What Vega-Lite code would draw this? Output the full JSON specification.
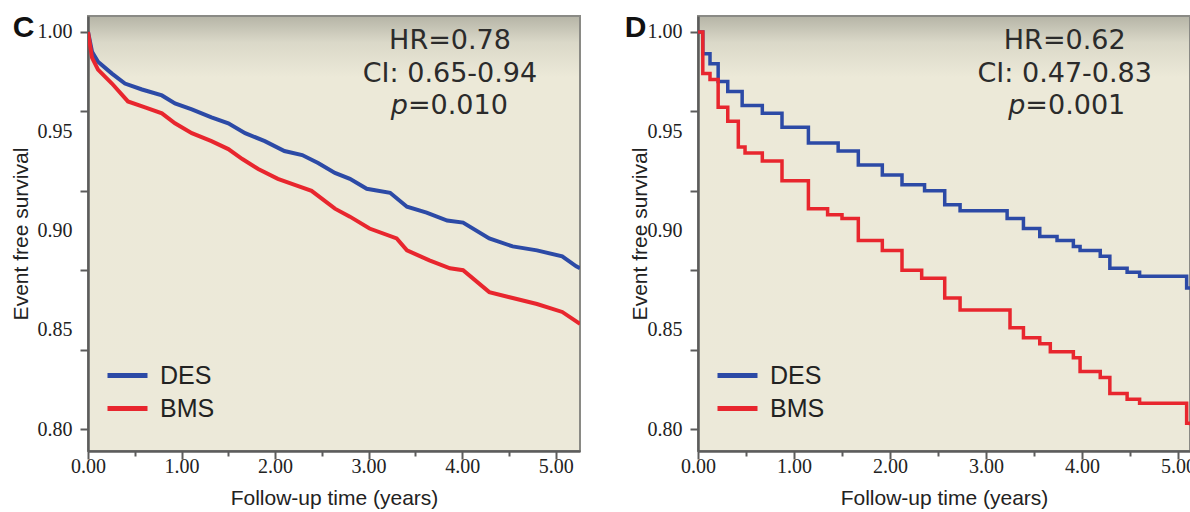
{
  "$schema": "https://vega.github.io/schema/vega-lite/v6.json",
  "background": "#ffffff",
  "padding": {"left": 9, "top": 11, "right": 0, "bottom": 0},
  "bounds": "flush",
  "spacing": 118,
  "datasets": {
    "c": [
      {"t": 0, "s": 1.0, "g": "DES"}, {"t": 0.043, "s": 0.99, "g": "DES"}, {"t": 0.107, "s": 0.985, "g": "DES"}, {"t": 0.256, "s": 0.979, "g": "DES"}, {"t": 0.395, "s": 0.974, "g": "DES"}, {"t": 0.577, "s": 0.971, "g": "DES"}, {"t": 0.79, "s": 0.968, "g": "DES"}, {"t": 0.93, "s": 0.964, "g": "DES"}, {"t": 1.11, "s": 0.961, "g": "DES"}, {"t": 1.32, "s": 0.957, "g": "DES"}, {"t": 1.5, "s": 0.954, "g": "DES"}, {"t": 1.68, "s": 0.949, "g": "DES"}, {"t": 1.89, "s": 0.945, "g": "DES"}, {"t": 2.1, "s": 0.94, "g": "DES"}, {"t": 2.29, "s": 0.938, "g": "DES"}, {"t": 2.46, "s": 0.934, "g": "DES"}, {"t": 2.64, "s": 0.929, "g": "DES"}, {"t": 2.8, "s": 0.926, "g": "DES"}, {"t": 2.98, "s": 0.921, "g": "DES"}, {"t": 3.23, "s": 0.919, "g": "DES"}, {"t": 3.41, "s": 0.912, "g": "DES"}, {"t": 3.62, "s": 0.909, "g": "DES"}, {"t": 3.84, "s": 0.905, "g": "DES"}, {"t": 4.01, "s": 0.904, "g": "DES"}, {"t": 4.29, "s": 0.896, "g": "DES"}, {"t": 4.54, "s": 0.892, "g": "DES"}, {"t": 4.8, "s": 0.89, "g": "DES"}, {"t": 5.07, "s": 0.887, "g": "DES"}, {"t": 5.22, "s": 0.882, "g": "DES"}, {"t": 5.26, "s": 0.881, "g": "DES"},
      {"t": 0, "s": 1.0, "g": "BMS"}, {"t": 0.043, "s": 0.987, "g": "BMS"}, {"t": 0.107, "s": 0.981, "g": "BMS"}, {"t": 0.256, "s": 0.974, "g": "BMS"}, {"t": 0.427, "s": 0.965, "g": "BMS"}, {"t": 0.61, "s": 0.962, "g": "BMS"}, {"t": 0.79, "s": 0.959, "g": "BMS"}, {"t": 0.93, "s": 0.954, "g": "BMS"}, {"t": 1.11, "s": 0.949, "g": "BMS"}, {"t": 1.32, "s": 0.945, "g": "BMS"}, {"t": 1.5, "s": 0.941, "g": "BMS"}, {"t": 1.65, "s": 0.936, "g": "BMS"}, {"t": 1.82, "s": 0.931, "g": "BMS"}, {"t": 2.03, "s": 0.926, "g": "BMS"}, {"t": 2.21, "s": 0.923, "g": "BMS"}, {"t": 2.39, "s": 0.92, "g": "BMS"}, {"t": 2.64, "s": 0.911, "g": "BMS"}, {"t": 2.8, "s": 0.907, "g": "BMS"}, {"t": 3.01, "s": 0.901, "g": "BMS"}, {"t": 3.3, "s": 0.896, "g": "BMS"}, {"t": 3.41, "s": 0.89, "g": "BMS"}, {"t": 3.65, "s": 0.885, "g": "BMS"}, {"t": 3.87, "s": 0.881, "g": "BMS"}, {"t": 4.01, "s": 0.88, "g": "BMS"}, {"t": 4.29, "s": 0.869, "g": "BMS"}, {"t": 4.54, "s": 0.866, "g": "BMS"}, {"t": 4.8, "s": 0.863, "g": "BMS"}, {"t": 5.07, "s": 0.859, "g": "BMS"}, {"t": 5.26, "s": 0.853, "g": "BMS"}
    ],
    "d": [
      {"t": 0, "s": 1.0, "g": "DES"}, {"t": 0.05, "s": 0.989, "g": "DES"}, {"t": 0.125, "s": 0.984, "g": "DES"}, {"t": 0.21, "s": 0.975, "g": "DES"}, {"t": 0.31, "s": 0.97, "g": "DES"}, {"t": 0.46, "s": 0.963, "g": "DES"}, {"t": 0.67, "s": 0.959, "g": "DES"}, {"t": 0.875, "s": 0.952, "g": "DES"}, {"t": 1.15, "s": 0.944, "g": "DES"}, {"t": 1.46, "s": 0.94, "g": "DES"}, {"t": 1.67, "s": 0.933, "g": "DES"}, {"t": 1.92, "s": 0.928, "g": "DES"}, {"t": 2.125, "s": 0.923, "g": "DES"}, {"t": 2.36, "s": 0.92, "g": "DES"}, {"t": 2.57, "s": 0.913, "g": "DES"}, {"t": 2.73, "s": 0.91, "g": "DES"}, {"t": 3.22, "s": 0.906, "g": "DES"}, {"t": 3.39, "s": 0.901, "g": "DES"}, {"t": 3.56, "s": 0.897, "g": "DES"}, {"t": 3.74, "s": 0.895, "g": "DES"}, {"t": 3.91, "s": 0.892, "g": "DES"}, {"t": 3.98, "s": 0.89, "g": "DES"}, {"t": 4.19, "s": 0.887, "g": "DES"}, {"t": 4.29, "s": 0.881, "g": "DES"}, {"t": 4.47, "s": 0.879, "g": "DES"}, {"t": 4.6, "s": 0.877, "g": "DES"}, {"t": 5.09, "s": 0.871, "g": "DES"}, {"t": 5.13, "s": 0.871, "g": "DES"},
      {"t": 0, "s": 1.0, "g": "BMS"}, {"t": 0.05, "s": 0.979, "g": "BMS"}, {"t": 0.125, "s": 0.976, "g": "BMS"}, {"t": 0.21, "s": 0.962, "g": "BMS"}, {"t": 0.31, "s": 0.955, "g": "BMS"}, {"t": 0.42, "s": 0.942, "g": "BMS"}, {"t": 0.49, "s": 0.939, "g": "BMS"}, {"t": 0.67, "s": 0.935, "g": "BMS"}, {"t": 0.875, "s": 0.925, "g": "BMS"}, {"t": 1.15, "s": 0.911, "g": "BMS"}, {"t": 1.35, "s": 0.908, "g": "BMS"}, {"t": 1.5, "s": 0.906, "g": "BMS"}, {"t": 1.67, "s": 0.895, "g": "BMS"}, {"t": 1.92, "s": 0.89, "g": "BMS"}, {"t": 2.125, "s": 0.88, "g": "BMS"}, {"t": 2.33, "s": 0.876, "g": "BMS"}, {"t": 2.57, "s": 0.866, "g": "BMS"}, {"t": 2.73, "s": 0.86, "g": "BMS"}, {"t": 3.25, "s": 0.851, "g": "BMS"}, {"t": 3.39, "s": 0.846, "g": "BMS"}, {"t": 3.56, "s": 0.843, "g": "BMS"}, {"t": 3.67, "s": 0.839, "g": "BMS"}, {"t": 3.91, "s": 0.836, "g": "BMS"}, {"t": 3.98, "s": 0.829, "g": "BMS"}, {"t": 4.19, "s": 0.826, "g": "BMS"}, {"t": 4.29, "s": 0.818, "g": "BMS"}, {"t": 4.47, "s": 0.815, "g": "BMS"}, {"t": 4.6, "s": 0.813, "g": "BMS"}, {"t": 5.09, "s": 0.803, "g": "BMS"}, {"t": 5.13, "s": 0.802, "g": "BMS"}
    ]
  },
  "config": {
    "view": {
      "stroke": "#8a8a85",
      "strokeWidth": 2,
      "fill": {"gradient": "linear", "x1": 0, "y1": 0, "x2": 0, "y2": 1, "stops": [{"offset": 0, "color": "#B5B4A6"}, {"offset": 0.06, "color": "#DAD8C8"}, {"offset": 0.14, "color": "#ECE9D8"}, {"offset": 1, "color": "#ECE9D9"}]}
    },
    "axis": {
      "grid": false,
      "domainColor": "#5c5c5c",
      "domainWidth": 2.5,
      "tickColor": "#5c5c5c",
      "tickWidth": 2,
      "labelFont": "Liberation Serif",
      "labelFontSize": 20,
      "labelColor": "#222222",
      "labelFlush": false,
      "labelOverlap": false,
      "titleFont": "Liberation Sans",
      "titleFontSize": 21,
      "titleFontWeight": "normal",
      "titleColor": "#222222"
    },
    "legend": {
      "orient": "none",
      "legendX": 27,
      "legendY": 347,
      "title": null,
      "symbolType": "M-2,0H2",
      "symbolSize": 400,
      "symbolStrokeWidth": 5,
      "labelFont": "Liberation Sans",
      "labelFontSize": 25,
      "labelColor": "#222222",
      "labelOffset": 20,
      "rowPadding": 7,
      "padding": 0
    }
  },
  "resolve": {"scale": {"color": "independent", "x": "independent", "y": "independent"}, "legend": {"color": "independent"}},
  "hconcat": [
    {
      "width": 492,
      "height": 435,
      "layer": [
        {
          "data": {"name": "c"},
          "mark": {"type": "line", "strokeWidth": 4, "clip": true},
          "encoding": {
            "x": {"field": "t", "type": "quantitative", "scale": {"domain": [0, 5.26], "nice": false, "zero": false},
              "axis": {"title": "Follow-up time (years)", "values": [0, 0.25, 0.5, 0.75, 1, 1.25, 1.5, 1.75, 2, 2.25, 2.5, 2.75, 3, 3.25, 3.5, 3.75, 4, 4.25, 4.5, 4.75, 5, 5.25],
                "labelExpr": "datum.value % 1 === 0 ? format(datum.value, '.2f') : ''",
                "tickSize": {"condition": {"test": "datum.value % 1 === 0", "value": 8}, "value": 5},
                "labelPadding": -3, "titlePadding": 11}},
            "y": {"field": "s", "type": "quantitative", "scale": {"domain": [0.789, 1.008], "nice": false, "zero": false},
              "axis": {"title": "Event free survival", "values": [0.8, 0.84, 0.85, 0.88, 0.9, 0.92, 0.95, 0.96, 1.0],
                "labelExpr": "indexof([0.8, 0.85, 0.9, 0.95, 1], datum.value) >= 0 ? format(datum.value, '.2f') : ''",
                "tickOpacity": {"condition": {"test": "indexof([0.85, 0.9, 0.95], datum.value) >= 0", "value": 0}, "value": 1},
                "tickSize": 8, "labelPadding": 8, "titlePadding": 6}},
            "color": {"field": "g", "type": "nominal", "scale": {"domain": ["DES", "BMS"], "range": ["#2C4AA6", "#E8262E"]}, "legend": {}}
          }
        },
        {
          "data": {"values": [{"t": 3.87, "s": 0.9955, "txt": "HR=0.78"}, {"t": 3.87, "s": 0.979, "txt": "CI: 0.65-0.94"}]},
          "mark": {"type": "text", "font": "DejaVu Sans", "fontSize": 27, "color": "#2b2b2b", "align": "center", "baseline": "middle"},
          "encoding": {"x": {"field": "t", "type": "quantitative"}, "y": {"field": "s", "type": "quantitative"}, "text": {"field": "txt"}}
        },
        {
          "data": {"values": [{"t": 3.42, "s": 0.9627, "txt": "p"}]},
          "mark": {"type": "text", "font": "DejaVu Sans", "fontSize": 27, "fontStyle": "italic", "color": "#2b2b2b", "align": "right", "baseline": "middle"},
          "encoding": {"x": {"field": "t", "type": "quantitative"}, "y": {"field": "s", "type": "quantitative"}, "text": {"field": "txt"}}
        },
        {
          "data": {"values": [{"t": 3.42, "s": 0.9627, "txt": "=0.010"}]},
          "mark": {"type": "text", "font": "DejaVu Sans", "fontSize": 27, "color": "#2b2b2b", "align": "left", "baseline": "middle"},
          "encoding": {"x": {"field": "t", "type": "quantitative"}, "y": {"field": "s", "type": "quantitative"}, "text": {"field": "txt"}}
        },
        {
          "data": {"values": [{"t": -0.69, "s": 1.0022, "txt": "C"}]},
          "mark": {"type": "text", "font": "Liberation Sans", "fontSize": 30, "fontWeight": "bold", "color": "#111111", "align": "center", "baseline": "middle"},
          "encoding": {"x": {"field": "t", "type": "quantitative"}, "y": {"field": "s", "type": "quantitative"}, "text": {"field": "txt"}}
        }
      ]
    },
    {
      "width": 492,
      "height": 435,
      "layer": [
        {
          "data": {"name": "d"},
          "mark": {"type": "line", "strokeWidth": 3.5, "interpolate": "step-after", "clip": true},
          "encoding": {
            "x": {"field": "t", "type": "quantitative", "scale": {"domain": [0, 5.125], "nice": false, "zero": false},
              "axis": {"title": "Follow-up time (years)", "values": [0, 0.25, 0.5, 0.75, 1, 1.25, 1.5, 1.75, 2, 2.25, 2.5, 2.75, 3, 3.25, 3.5, 3.75, 4, 4.25, 4.5, 4.75, 5],
                "labelExpr": "datum.value % 1 === 0 ? format(datum.value, '.2f') : ''",
                "tickSize": {"condition": {"test": "datum.value % 1 === 0", "value": 8}, "value": 5},
                "labelPadding": -3, "titlePadding": 11}},
            "y": {"field": "s", "type": "quantitative", "scale": {"domain": [0.789, 1.008], "nice": false, "zero": false},
              "axis": {"title": "Event free survival", "values": [0.8, 0.84, 0.85, 0.88, 0.9, 0.92, 0.95, 0.96, 1.0],
                "labelExpr": "indexof([0.8, 0.85, 0.9, 0.95, 1], datum.value) >= 0 ? format(datum.value, '.2f') : ''",
                "tickOpacity": {"condition": {"test": "indexof([0.85, 0.9, 0.95], datum.value) >= 0", "value": 0}, "value": 1},
                "tickSize": 8, "labelPadding": 8, "titlePadding": -3}},
            "color": {"field": "g", "type": "nominal", "scale": {"domain": ["DES", "BMS"], "range": ["#2C4AA6", "#E8262E"]}, "legend": {}}
          }
        },
        {
          "data": {"values": [{"t": 3.82, "s": 0.9955, "txt": "HR=0.62"}, {"t": 3.82, "s": 0.979, "txt": "CI: 0.47-0.83"}]},
          "mark": {"type": "text", "font": "DejaVu Sans", "fontSize": 27, "color": "#2b2b2b", "align": "center", "baseline": "middle"},
          "encoding": {"x": {"field": "t", "type": "quantitative"}, "y": {"field": "s", "type": "quantitative"}, "text": {"field": "txt"}}
        },
        {
          "data": {"values": [{"t": 3.41, "s": 0.9627, "txt": "p"}]},
          "mark": {"type": "text", "font": "DejaVu Sans", "fontSize": 27, "fontStyle": "italic", "color": "#2b2b2b", "align": "right", "baseline": "middle"},
          "encoding": {"x": {"field": "t", "type": "quantitative"}, "y": {"field": "s", "type": "quantitative"}, "text": {"field": "txt"}}
        },
        {
          "data": {"values": [{"t": 3.41, "s": 0.9627, "txt": "=0.001"}]},
          "mark": {"type": "text", "font": "DejaVu Sans", "fontSize": 27, "color": "#2b2b2b", "align": "left", "baseline": "middle"},
          "encoding": {"x": {"field": "t", "type": "quantitative"}, "y": {"field": "s", "type": "quantitative"}, "text": {"field": "txt"}}
        },
        {
          "data": {"values": [{"t": -0.65, "s": 1.0022, "txt": "D"}]},
          "mark": {"type": "text", "font": "Liberation Sans", "fontSize": 30, "fontWeight": "bold", "color": "#111111", "align": "center", "baseline": "middle"},
          "encoding": {"x": {"field": "t", "type": "quantitative"}, "y": {"field": "s", "type": "quantitative"}, "text": {"field": "txt"}}
        }
      ]
    }
  ]
}
